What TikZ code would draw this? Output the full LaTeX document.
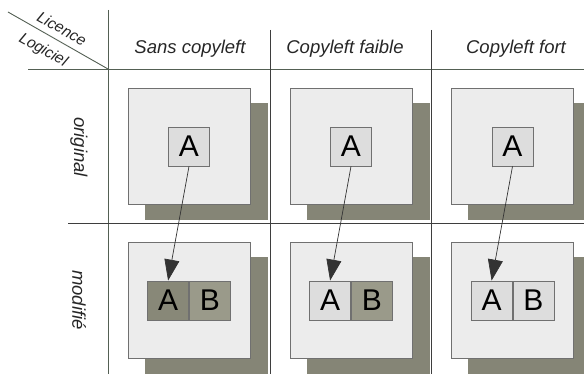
\documentclass[tikz,border=0pt]{standalone}
\usepackage{fontspec}
\setmainfont{Liberation Sans}
\usetikzlibrary{arrows.meta,positioning,backgrounds}
\definecolor{gridGreen}{RGB}{84,96,84}
\definecolor{gridDark}{RGB}{62,62,62}
\definecolor{panelGray}{RGB}{236,236,236}
\definecolor{panelEdge}{RGB}{112,112,112}
\definecolor{shadowOlive}{RGB}{133,133,118}
\definecolor{cellLight}{RGB}{221,221,221}
\definecolor{cellOlive}{RGB}{136,136,120}
\definecolor{cellKhaki}{RGB}{154,154,138}
\tikzset{
  panel/.style={draw=panelEdge,fill=panelGray,line width=1pt,minimum width=122pt,minimum height=116pt,inner sep=0pt},
  cell/.style={draw=panelEdge,line width=0.8pt,minimum width=41pt,minimum height=39pt,inner sep=0pt,font=\fontsize{30}{30}\selectfont},
  head/.style={text=black!85,font=\itshape\fontsize{18.5}{20}\selectfont},
  corner/.style={text=black!85,inner sep=0pt,font=\itshape\fontsize{15.5}{17}\selectfont},
  link/.style={draw=black!80,line width=0.7pt,-{Triangle[length=21pt,width=15pt]}},
}

\begin{document}
\begin{tikzpicture}[x=1pt,y=-1pt]
\useasboundingbox (0,0) rectangle (584,374);
\clip (0,0) rectangle (584,374);
% table lines
\draw[gridGreen,line width=0.9pt] (8,12) -- (108,69);
\draw[gridGreen,line width=0.9pt] (28,69) -- (584,69);
\draw[gridGreen,line width=0.9pt] (108,10) -- (108,374);
\draw[gridDark,line width=1pt] (270,30) -- (270,374);
\draw[gridDark,line width=1pt] (431,30) -- (431,374);
\draw[gridDark,line width=1pt] (68,224) -- (584,224);
% headings
\node[corner,rotate=-29] (licence) at (62,28.5) {Licence};
\node[corner,rotate=-29] (logiciel) at (43,50.5) {Logiciel};
\node[head] (colNone) at (190,49) {Sans copyleft};
\node[head] (colWeak) at (345,49) {Copyleft faible};
\node[head] (colStrong) at (516,49) {Copyleft fort};
\node[head,rotate=-90] (rowOrig) at (79,147) {original};
\node[head,rotate=-90] (rowMod) at (79,300) {modifié};
% panels and their shadows
\foreach \name/\x in {N/189,W/351,S/512.5}{
  \node[panel] (top\name) at (\x,146.5) {};
  \node[panel] (bot\name) at (\x,300.5) {};
}
\begin{scope}[on background layer]
\foreach \name in {N,W,S}{
  \fill[shadowOlive] ([shift={(17,15)}]top\name.south west) rectangle ([shift={(17,15)}]top\name.north east);
  \fill[shadowOlive] ([shift={(17,15)}]bot\name.south west) rectangle ([shift={(17,15)}]bot\name.north east);
}
\end{scope}
% sans copyleft
\node[cell,fill=cellLight] (origN) at (topN) {A};
\node[cell,fill=cellOlive,anchor=east] (modNa) at (botN.center) {A};
\node[cell,fill=cellKhaki,right=0pt of modNa] (modNb) {B};
% copyleft faible
\node[cell,fill=cellLight] (origW) at (topW) {A};
\node[cell,fill=cellLight,anchor=east] (modWa) at (botW.center) {A};
\node[cell,fill=cellKhaki,right=0pt of modWa] (modWb) {B};
% copyleft fort
\node[cell,fill=cellLight] (origS) at (topS) {A};
\node[cell,fill=cellLight,anchor=east] (modSa) at (botS.center) {A};
\node[cell,fill=cellLight,right=0pt of modSa] (modSb) {B};
% arrows
\draw[link] (origN.south) -- (modNa.north);
\draw[link] (origW.south) -- (modWa.north);
\draw[link] (origS.south) -- (modSa.north);
\end{tikzpicture}
\end{document}
